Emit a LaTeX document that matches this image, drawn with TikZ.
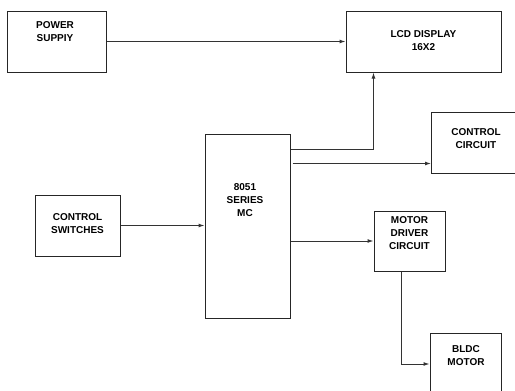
\documentclass[tikz,border=0pt]{standalone}
\usepackage{fontspec}
\setmainfont{Liberation Sans}
\usetikzlibrary{positioning, arrows.meta, calc}
\definecolor{wire}{HTML}{333333}

\tikzset{
  blk/.style={draw=black!85, line width=1pt, inner sep=0pt},
  txt/.style={align=center, font=\fontsize{10}{13}\selectfont\bfseries, inner sep=0pt},
  link/.style={draw=wire, line width=1pt, -{Latex[length=6pt,width=4pt]}}
}

\begin{document}
\begin{tikzpicture}[x=1pt, y=-1pt]
  \useasboundingbox (0,0) rectangle (515,391);
  \fill[white] (0,0) rectangle (515,391);
  % blocks
  \node[blk, minimum width=99pt, minimum height=61pt] (psu) at (56.5,41.5) {};
  \node[txt] (psut) at (55,31.5) {POWER\\SUPPIY};
  \node[blk, minimum width=155pt, minimum height=61pt] (lcd) at (423.5,41.5) {};
  \node[txt] (lcdt) at (423.5,40.5) {LCD DISPLAY\\16X2};
  \node[blk, minimum width=85pt, minimum height=184pt] (mc) at (247.5,226) {};
  \node[txt] (mct) at (245,200) {8051\\SERIES\\MC};
  \node[blk, minimum width=85pt, minimum height=61pt] (cc) at (474,143) {};
  \node[txt] (cct) at (476,138.5) {CONTROL\\CIRCUIT};
  \node[blk, minimum width=85pt, minimum height=61pt] (sw) at (77.5,225.5) {};
  \node[txt] (swt) at (77.5,224) {CONTROL\\SWITCHES};
  \node[blk, minimum width=71pt, minimum height=60pt] (md) at (409.5,241) {};
  \node[txt] (mdt) at (409.5,233) {MOTOR\\DRIVER\\CIRCUIT};
  \node[blk, minimum width=71pt, minimum height=62pt] (bldc) at (465.5,364) {};
  \node[txt] (bldct) at (466,355.5) {BLDC\\MOTOR};
  % connections
  \coordinate (lcdin) at ($(lcd.south west)+(28,0)$);
  \coordinate (ccout) at ($(mc.north east)+(2,30)$);
  \coordinate (mdout) at ($(md.south west)+(28,0)$);
  \draw[link] (psu.east) -- (lcd.west);
  \draw[link] ($(mc.north east)+(0,16)$) -| (lcdin);
  \draw[link] (ccout) -- (ccout -| cc.west);
  \draw[link] (sw.east) -- (sw.east -| mc.west);
  \draw[link] (mc.east |- md.west) -- (md.west);
  \draw[link] (mdout) |- (bldc.west);
\end{tikzpicture}
\end{document}
